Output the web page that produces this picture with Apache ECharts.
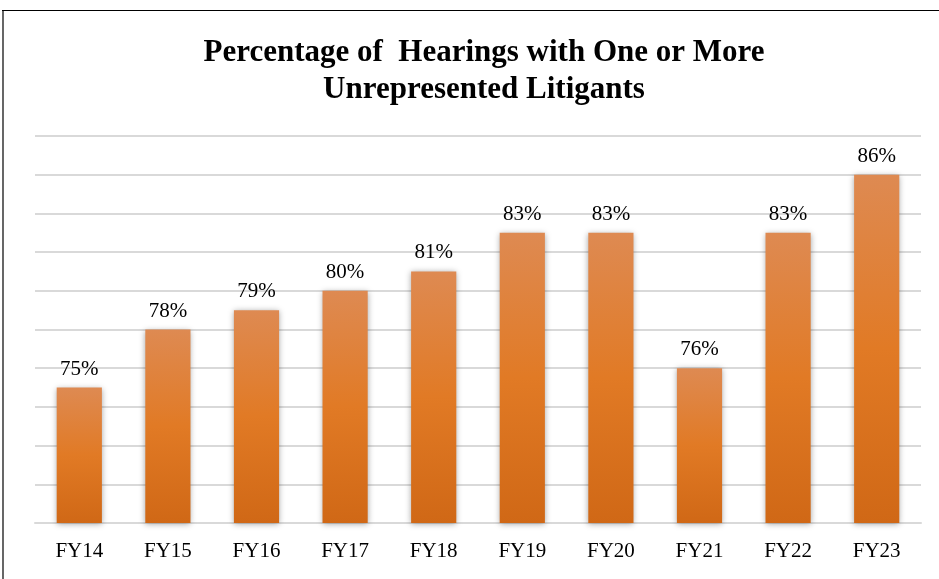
<!DOCTYPE html>
<html>
<head>
<meta charset="utf-8">
<script src="https://cdn.jsdelivr.net/npm/echarts@6/dist/echarts.min.js"></script>
<style>
html,body{margin:0;padding:0;background:#fff;}
#chart{width:939px;height:579px;}
</style>
</head>
<body>
<div id="chart"></div>
<script>
const categories = ['FY14','FY15','FY16','FY17','FY18','FY19','FY20','FY21','FY22','FY23'];
const values = [75, 78, 79, 80, 81, 83, 83, 76, 83, 86];
const titleText = 'Percentage of  Hearings with One or More\nUnrepresented Litigants';

const chart = echarts.init(document.getElementById('chart'));
chart.setOption({
  animation: false,
  backgroundColor: '#ffffff',
  title: {
    text: titleText,
    left: 479,
    textAlign: 'center',
    top: 29,
    textStyle: {
      fontFamily: 'Liberation Serif',
      fontWeight: 'bold',
      fontSize: 31,
      lineHeight: 37,
      color: '#000000'
    }
  },
  graphic: [
    { type: 'line', shape: { x1: 2, y1: 10.5, x2: 939, y2: 10.5 }, style: { stroke: '#000', lineWidth: 1.2 } },
    { type: 'line', shape: { x1: 3, y1: 10, x2: 3, y2: 579 }, style: { stroke: '#000', lineWidth: 1.2 } }
  ],
  grid: { left: 35, right: 18, top: 136, bottom: 56, containLabel: false },
  xAxis: {
    type: 'category',
    data: categories,
    axisLine: { show: true, lineStyle: { color: '#d9d9d9', width: 2 } },
    axisTick: { show: false },
    axisLabel: { fontFamily: 'Liberation Serif', fontSize: 21, color: '#000', margin: 18 }
  },
  yAxis: {
    type: 'value',
    min: 68,
    max: 88,
    interval: 2,
    axisLabel: { show: false },
    axisLine: { show: false },
    axisTick: { show: false },
    splitLine: { lineStyle: { color: '#d9d9d9', width: 2 } }
  },
  series: [{
    type: 'bar',
    data: values,
    barWidth: '51%',
    itemStyle: {
      color: new echarts.graphic.LinearGradient(0, 0, 0, 1, [
        { offset: 0, color: '#de8a52' },
        { offset: 0.5, color: '#e17a25' },
        { offset: 1, color: '#d06816' }
      ]),
      shadowColor: 'rgba(0,0,0,0.35)',
      shadowBlur: 6,
      shadowOffsetX: 0,
      shadowOffsetY: 1
    },
    label: {
      show: true,
      position: 'top',
      distance: 8,
      formatter: '{c}%',
      fontFamily: 'Liberation Serif',
      fontSize: 21,
      color: '#000'
    }
  }]
});
</script>
</body>
</html>
